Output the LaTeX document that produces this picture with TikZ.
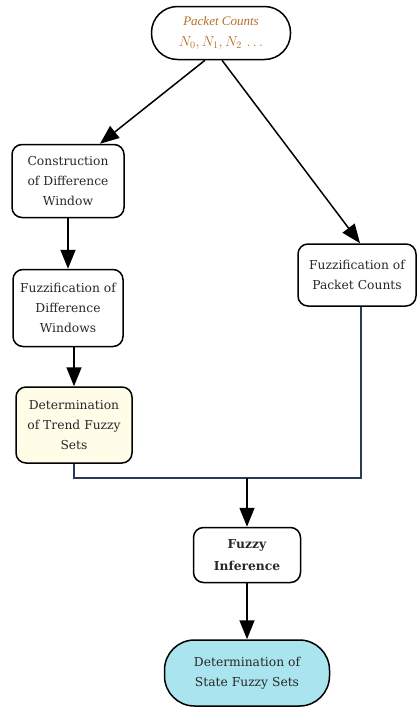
\documentclass[tikz,border=0pt]{standalone}
\usepackage{fontspec}
\setmainfont{DejaVu Serif}
\newfontfamily\captionserif{Liberation Serif}
\usetikzlibrary{arrows.meta}
\definecolor{inkorange}{RGB}{176,112,40}
\definecolor{textgray}{RGB}{40,40,40}
\definecolor{trendfill}{RGB}{255,253,232}
\definecolor{statefill}{RGB}{170,228,238}
\definecolor{linkblue}{RGB}{40,60,90}
\begin{document}
\begin{tikzpicture}[x=1pt,y=-1pt,
  box/.style={draw=black,line width=1.5pt,rounded corners=10pt,align=center,
    text=textgray,font=\fontsize{12.3}{20}\selectfont,inner sep=0pt},
  arr/.style={line width=1.5pt,-{Triangle[width=15pt,length=19pt]}},
  link/.style={line width=1.3pt}]
\useasboundingbox (0,0) rectangle (417,707);
\node[box,rounded corners=26pt,minimum width=139pt,minimum height=53pt] (src) at (221,33)
  {\textcolor{inkorange}{\captionserif\fontsize{13}{14}\selectfont\itshape Packet Counts}\\[1pt]
   \textcolor{inkorange}{\fontsize{14}{15}\selectfont$N_0,N_1,N_2\,\ldots$}};
\node[box,minimum width=112pt,minimum height=73pt] (constr) at (68,181)
  {Construction\\of Difference\\Window};
\node[box,minimum width=110pt,minimum height=77pt] (fdiff) at (68,308)
  {Fuzzification of\\Difference\\Windows};
\node[box,fill=trendfill,minimum width=116pt,minimum height=76pt] (trend) at (74,425)
  {Determination\\of Trend Fuzzy\\Sets};
\node[box,minimum width=118pt,minimum height=62pt] (fpc) at (357,275)
  {Fuzzification of\\Packet Counts};
\node[box,font=\fontsize{12.3}{22}\selectfont\bfseries,minimum width=107pt,minimum height=55pt] (infer) at (247,555)
  {Fuzzy\\Inference};
\node[box,fill=statefill,rounded corners=30pt,minimum width=165pt,minimum height=66pt] (state) at (247,673)
  {Determination of\\State Fuzzy Sets};
\coordinate (join) at (247,478);
\draw[arr] ([xshift=-16pt]src.south) -- ([xshift=32pt]constr.north);
\draw[arr] ([xshift=1pt]src.south) -- ([xshift=3pt]fpc.north);
\draw[arr] (constr.south) -- (fdiff.north);
\draw[arr] ([xshift=6pt]fdiff.south) -- ([xshift=0pt]trend.north);
\draw[link,draw=linkblue] (trend.south) |- (join) -| ([xshift=4pt]fpc.south);
\draw[arr] (join) -- (infer.north);
\draw[arr] (infer.south) -- (state.north);
\end{tikzpicture}
\end{document}
